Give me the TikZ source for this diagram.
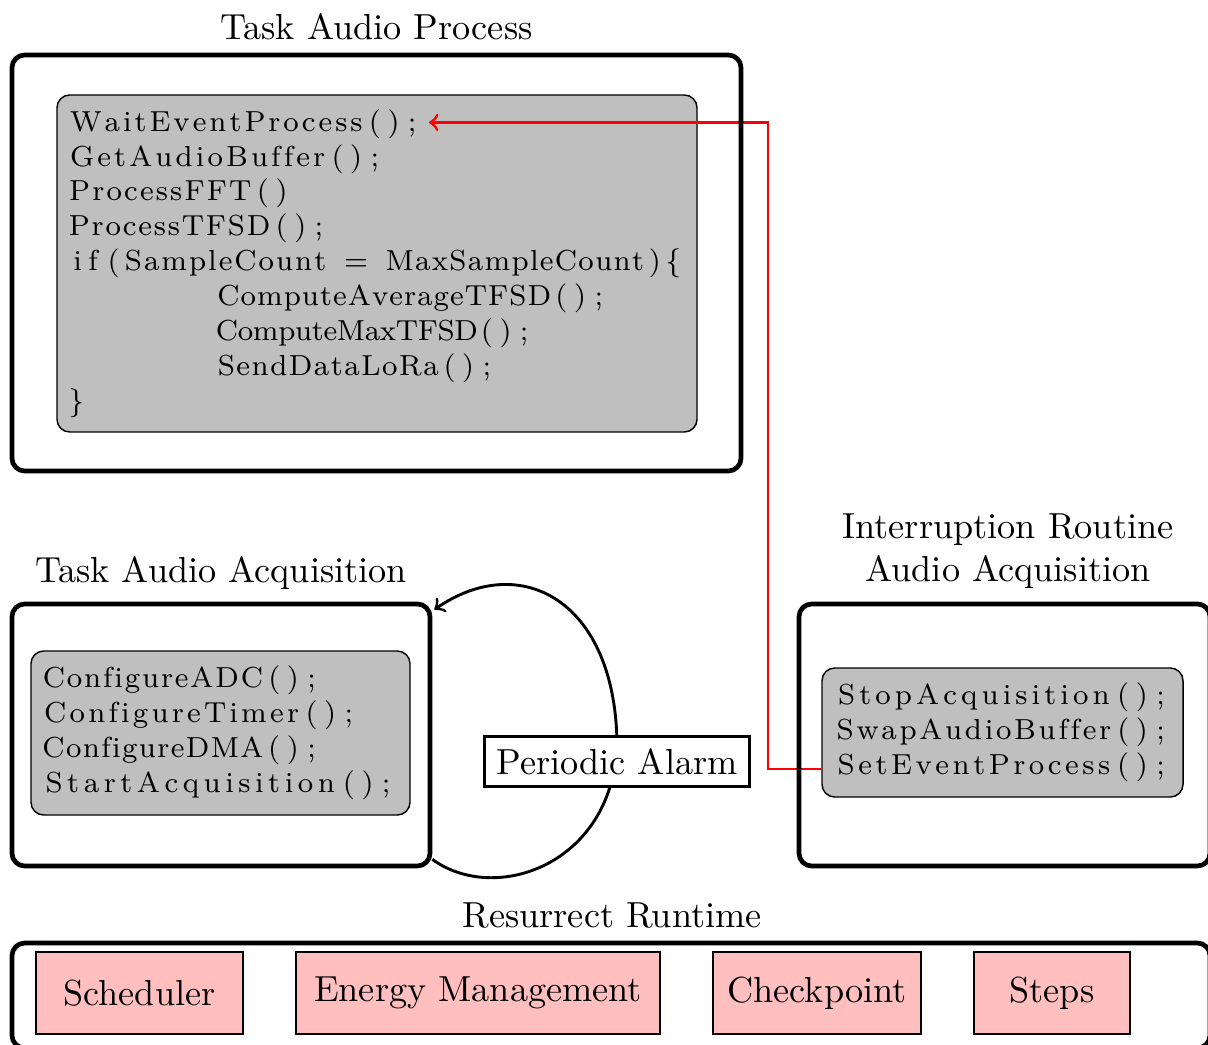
\documentclass[tikz,border=0pt]{standalone}
\usetikzlibrary{calc}
\def\PXU{0.276pt}
\newdimen\colw \colw=5.15pt
\makeatletter
\newcount\lu@n
\def\lu@stop{\lu@stop}
\def\lu@stopm{\lu@stop}
\newcommand\codeline[1]{\leavevmode\lu@loop#1\lu@stop}
\def\lu@loop#1{\def\lu@tmp{#1}\ifx\lu@tmp\lu@stopm
  \expandafter\@gobble\else\expandafter\@firstofone\fi
  {\lu@unit{#1}\lu@loop}}
\def\lu@unit#1{\lu@n=0 \lu@count#1\lu@stop
  \hbox to \lu@n\colw{\lu@put#1\lu@stop\hss}}
\def\lu@count#1{\ifx#1\lu@stop\else\advance\lu@n by 1 \expandafter\lu@count\fi}
\def\lu@put#1{\ifx#1\lu@stop\else\hss#1\expandafter\lu@put\fi}
\makeatother
\newcommand\lsp{\hbox{}}
\tikzset{
  outerbox/.style={draw, line width=1.3pt, rounded corners=3.5pt, inner sep=0pt},
  codebox/.style={draw, fill=lightgray, rounded corners=3.5pt, align=left,
    font={\fontsize{8}{9.63}\selectfont}, inner ysep=0pt},
  titletext/.style={font=\normalsize, inner sep=0pt},
  pinkbox/.style={draw, fill=red!25, inner sep=0pt},
  alarm/.style={draw, thick, fill=white},
  loopline/.style={thick, ->},
  redline/.style={red, thick, ->}
}
\begin{document}
\begin{tikzpicture}[x=0.276pt,y=-0.276pt]
\useasboundingbox (0,0) rectangle (1208,1045);
\clip (0,0) rectangle (1208,1045);
% code boxes
\node[codebox, minimum width=640*\PXU, minimum height=337*\PXU, text width=171.12pt, inner xsep=10*\PXU] (c1) at (377,263.5) {%
\codeline{{WaitEventProcess}();}\\%
\codeline{{GetAudioBuffer}();}\\%
\codeline{{ProcessFFT}()}\\%
\codeline{{ProcessTFSD}();}\\%
\codeline{{if}({SampleCount}\lsp=\lsp{MaxSampleCount})\{}\\%
\codeline{{\lsp\lsp\lsp\lsp\lsp\lsp\lsp\lsp}{ComputeAverageTFSD}();}\\%
\codeline{{\lsp\lsp\lsp\lsp\lsp\lsp\lsp\lsp}{ComputeMaxTFSD}();}\\%
\codeline{{\lsp\lsp\lsp\lsp\lsp\lsp\lsp\lsp}{SendDataLoRa}();}\\%
\codeline{\}}};
\node[codebox, minimum width=379*\PXU, minimum height=164*\PXU, text width=99.08pt, inner xsep=10*\PXU] (c2) at (220.5,733) {%
\codeline{{ConfigureADC}();}\\%
\codeline{{ConfigureTimer}();}\\%
\codeline{{ConfigureDMA}();}\\%
\codeline{{StartAcquisition}();}};
\node[codebox, minimum width=361*\PXU, minimum height=129*\PXU, text width=93.01pt, inner xsep=12*\PXU] (c3) at (1002.5,732.5) {%
\codeline{{StopAcquisition}();}\\%
\codeline{{SwapAudioBuffer}();}\\%
\codeline{{SetEventProcess}();}};
% red connector
\coordinate (wtip) at (429,122.5);
\draw[redline] ($(c3.west)+(0,36.5)$) -| ($(wtip)+(339,0)$) -- (wtip);
% outer boxes
\node[outerbox, minimum width=729*\PXU, minimum height=416*\PXU] (b1) at (376.5,263) {};
\node[outerbox, minimum width=418*\PXU, minimum height=262*\PXU] (b2) at (221,735) {};
\node[outerbox, minimum width=411*\PXU, minimum height=262*\PXU] (b3) at (1004.5,735) {};
\node[outerbox, minimum width=1198*\PXU, minimum height=105*\PXU] (b4) at (611,995.5) {};
% titles
\node[titletext, anchor=base] (t1) at (376.5,40) {Task Audio Process};
\node[titletext, anchor=base] (t2) at (221,582) {Task Audio Acquisition};
\node[titletext, align=center] (t3) at (1008,551) {Interruption Routine\\Audio Acquisition};
\node[titletext, anchor=base] (t4) at (612,927) {Resurrect Runtime};
% runtime components
\node[pinkbox, minimum width=207*\PXU, minimum height=82*\PXU] (sch) at (139.5,993) {Scheduler};
\node[pinkbox, minimum width=364*\PXU, minimum height=82*\PXU] (em) at (478,993) {Energy Management};
\node[pinkbox, minimum width=208*\PXU, minimum height=82*\PXU] (cp) at (817,993) {Checkpoint};
\node[pinkbox, minimum width=156*\PXU, minimum height=82*\PXU] (st) at (1052,993) {Steps};
% periodic loop
\draw[loopline] ($(b2.south east)+(0,-9)$) .. controls (495,905) and (612,865) .. (617,745)
  .. controls (616,600) and (520,550) .. ($(b2.north east)+(2,8)$);
\node[alarm] (pa) at (617,761.5) {Periodic Alarm};
\end{tikzpicture}
\end{document}
